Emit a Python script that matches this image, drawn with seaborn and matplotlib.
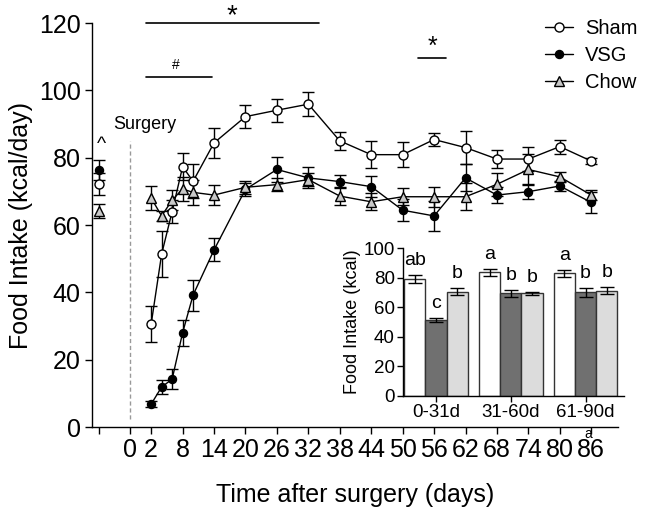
import numpy as np
import pandas as pd
import seaborn as sns
import matplotlib.pyplot as plt

# time course (days after surgery), mean and SEM
days = [2, 4, 6, 8, 10, 14, 20, 26, 32, 38, 44, 50, 56, 62, 68, 74, 80, 86]
sham = [30.6, 51.4, 64.0, 77.3, 73.0, 84.4, 92.2, 94.1, 95.9, 85.0, 80.9, 80.9, 85.4, 83.0, 79.6, 79.6, 83.3, 79.0]
sham_err = [5.2, 6.7, 3.5, 4.0, 5.0, 4.4, 3.5, 3.4, 3.5, 2.6, 4.0, 3.8, 2.0, 4.9, 2.6, 3.5, 2.1, 0.8]
vsg = [6.8, 11.9, 14.2, 28.0, 39.2, 52.6, 70.6, 76.5, 74.0, 72.9, 71.4, 64.4, 62.7, 74.0, 68.9, 69.9, 71.6, 66.7]
vsg_err = [0.8, 2.0, 3.0, 3.9, 4.6, 3.4, 2.0, 3.6, 3.1, 2.0, 3.2, 3.2, 4.5, 4.0, 2.5, 2.2, 1.5, 3.2]
chow = [68.0, 62.7, 67.4, 70.7, 69.7, 68.9, 71.2, 72.0, 73.5, 68.6, 66.9, 68.4, 68.4, 68.4, 72.1, 76.5, 74.3, 68.9]
chow_err = [3.6, 1.5, 3.0, 3.5, 3.7, 3.0, 2.0, 2.0, 2.0, 2.7, 2.5, 2.5, 3.0, 4.0, 3.4, 4.5, 1.5, 1.5]

# pre-surgery baseline
pre_day = -8
pre = {'Sham': (72.2, 3.2), 'VSG': (76.3, 3.0), 'Chow': (64.2, 2.0)}

tick_days = [-8, -2, 2, 8, 14, 20, 26, 32, 38, 44, 50, 56, 62, 68, 74, 80, 86]
tick_labels = ['', '0', '2', '8', '14', '20', '26', '32', '38', '44', '50', '56', '62', '68', '74', '80', '86']

# inset: average intake by period
periods = ['0-31d', '31-60d', '61-90d']
bar_sham = [79.0, 83.7, 83.0]
bar_sham_err = [2.8, 2.6, 2.5]
bar_vsg = [51.4, 69.5, 70.1]
bar_vsg_err = [1.6, 2.5, 3.0]
bar_chow = [70.6, 69.5, 71.3]
bar_chow_err = [2.5, 1.1, 2.6]
bar_letters = {'Sham': ['ab', 'a', 'a'], 'VSG': ['c', 'b', 'b'], 'Chow': ['b', 'b', 'b']}

sns.set_style('ticks')
plt.rcParams['font.family'] = ['Liberation Sans', 'DejaVu Sans']
plt.rcParams['axes.linewidth'] = 1.0
for key in ['text.color', 'axes.labelcolor', 'xtick.color', 'ytick.color', 'axes.edgecolor']:
    plt.rcParams[key] = 'black'

fig = plt.figure(figsize=(6.45, 5.12), dpi=100)
ax = fig.add_axes([0.1426, 0.166, 0.8155, 0.789])

styles = {
    'Sham': dict(marker='o', mfc='white', ms=6.5),
    'VSG': dict(marker='o', mfc='black', ms=5.8),
    'Chow': dict(marker='^', mfc='#c8c8c8', ms=6.5),
}
series = {'Sham': (sham, sham_err), 'VSG': (vsg, vsg_err), 'Chow': (chow, chow_err)}

for name, (vals, errs) in series.items():
    ax.errorbar(days, vals, yerr=errs, fmt='none', ecolor='black', elinewidth=1,
                capsize=4, capthick=1, zorder=2)
    sns.lineplot(x=days, y=vals, ax=ax, color='black', linewidth=1,
                 marker=styles[name]['marker'], markersize=styles[name]['ms'],
                 markerfacecolor=styles[name]['mfc'], markeredgecolor='black',
                 markeredgewidth=1, label=name, zorder=3)
    m, e = pre[name]
    ax.errorbar([pre_day], [m], yerr=[e], fmt='none', ecolor='black', elinewidth=1,
                capsize=4, capthick=1, zorder=2)
    ax.plot([pre_day], [m], linestyle='none', marker=styles[name]['marker'],
            markersize=styles[name]['ms'], markerfacecolor=styles[name]['mfc'],
            markeredgecolor='black', markeredgewidth=1, zorder=3)

ax.set_xlim(-9.3, 91.1)
ax.set_ylim(0, 120)
ax.set_yticks(range(0, 121, 20))
ax.set_xticks(tick_days)
ax.set_xticklabels(tick_labels)
ax.tick_params(axis='both', labelsize=18, length=5, width=1, direction='out', pad=3)
ax.set_xlabel('Time after surgery (days)', fontsize=18, labelpad=15)
ax.set_ylabel('Food Intake (kcal/day)', fontsize=18, labelpad=4)
sns.despine(ax=ax)

# surgery marker
ax.plot([-2, -2], [2.5, 85], color='#999999', linestyle=(0, (3, 2)), linewidth=1)
ax.text(-5.3, 90, 'Surgery', fontsize=13, va='center', ha='left')
ax.text(-7.4, 84, '^', fontsize=14, ha='center', va='center')

# significance bars
ax.plot([1, 34], [120, 120], color='black', linewidth=1.2, clip_on=False)
ax.text(17.4, 122, '*', fontsize=20, ha='center', va='center', clip_on=False)
ax.plot([1, 13.6], [104, 104], color='black', linewidth=1.2)
ax.text(6.7, 107.5, '#', fontsize=10, ha='center', va='center')
ax.plot([53, 58.3], [109.5, 109.5], color='black', linewidth=1.2)
ax.text(55.6, 113, '*', fontsize=18, ha='center', va='center')
ax.text(85.4, -2.1, 'a', fontsize=10, ha='center', va='center', clip_on=False)

leg = ax.legend(loc='upper left', bbox_to_anchor=(0.846, 1.03), frameon=False, fontsize=14.5,
                handlelength=1.4, handletextpad=0.6, labelspacing=0.4, borderaxespad=0)

# inset bar chart
ax2 = fig.add_axes([0.625, 0.227, 0.342, 0.288])
bars = pd.DataFrame({
    'period': periods * 3,
    'group': ['Sham'] * 3 + ['VSG'] * 3 + ['Chow'] * 3,
    'value': bar_sham + bar_vsg + bar_chow,
})
sns.barplot(data=bars, x='period', y='value', hue='group', ax=ax2, width=0.85,
            palette={'Sham': 'white', 'VSG': '#707070', 'Chow': '#dcdcdc'},
            edgecolor='#333333', linewidth=1, legend=False, errorbar=None)
bar_errs = {'Sham': bar_sham_err, 'VSG': bar_vsg_err, 'Chow': bar_chow_err}
for cont, name in zip(ax2.containers, ['Sham', 'VSG', 'Chow']):
    for i, bar in enumerate(cont):
        cx = bar.get_x() + bar.get_width() / 2
        top = bar.get_height()
        ax2.errorbar([cx], [top], yerr=[bar_errs[name][i]], fmt='none', ecolor='black',
                     elinewidth=1, capsize=5, capthick=1)
        ax2.text(cx, top + bar_errs[name][i] + 4, bar_letters[name][i], fontsize=14,
                 ha='center', va='bottom')
ax2.set_xlim(-0.44, 2.51)
ax2.set_ylim(0, 100)
ax2.set_yticks(range(0, 101, 20))
ax2.set_xlabel('')
ax2.set_ylabel('Food Intake (kcal)', fontsize=13, labelpad=2)
ax2.tick_params(axis='both', labelsize=13.5, length=4, width=1, direction='out', pad=2)
ax2.patch.set_alpha(0)
sns.despine(ax=ax2)

fig.savefig('out.png', dpi=100)
